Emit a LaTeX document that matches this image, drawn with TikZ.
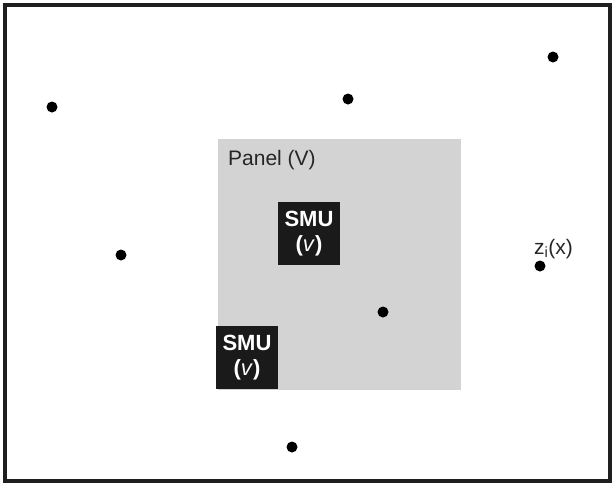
\documentclass[tikz,border=0pt]{standalone}
\usepackage{fontspec}
\setmainfont{Liberation Sans}
\definecolor{panelgray}{HTML}{D3D3D3}
\definecolor{smudark}{HTML}{1A1A1A}
\begin{document}
\begin{tikzpicture}[x=1pt,y=-1pt,
  dot/.style={circle,fill=black,inner sep=0pt,minimum size=11pt},
  smubox/.style={fill=smudark,text=white,inner sep=0pt,minimum width=62pt,minimum height=63pt,align=center,font=\fontsize{22}{25}\selectfont\bfseries},
  lbl/.style={inner sep=0pt,font=\fontsize{21}{25}\selectfont,text=black!85}]
\useasboundingbox (0,0) rectangle (615,483);
\fill[white] (0,0) rectangle (615,483);
\draw[line width=4pt,draw=black!88] (5,5) rectangle (610,481);
\fill[panelgray] (218,139) rectangle (461,390);
\node[lbl,anchor=west] (panel) at (228,160) {Panel (V)};
\node[smubox] (smu1) at (309,233.5) {SMU\\(\textit{\mdseries v})};
\node[smubox] (smu2) at (247,357.5) {SMU\\(\textit{\mdseries v})};
\node[dot] (d1) at (52,107) {};
\node[dot] (d2) at (348,99) {};
\node[dot] (d3) at (553,57) {};
\node[dot] (d4) at (121,255) {};
\node[dot] (d5) at (540,266) {};
\node[dot] (d6) at (383,312) {};
\node[dot] (d7) at (292,447) {};
\node[lbl,anchor=south west] (zlab) at (534,259) {z\textsubscript{i}(x)};
\end{tikzpicture}
\end{document}
